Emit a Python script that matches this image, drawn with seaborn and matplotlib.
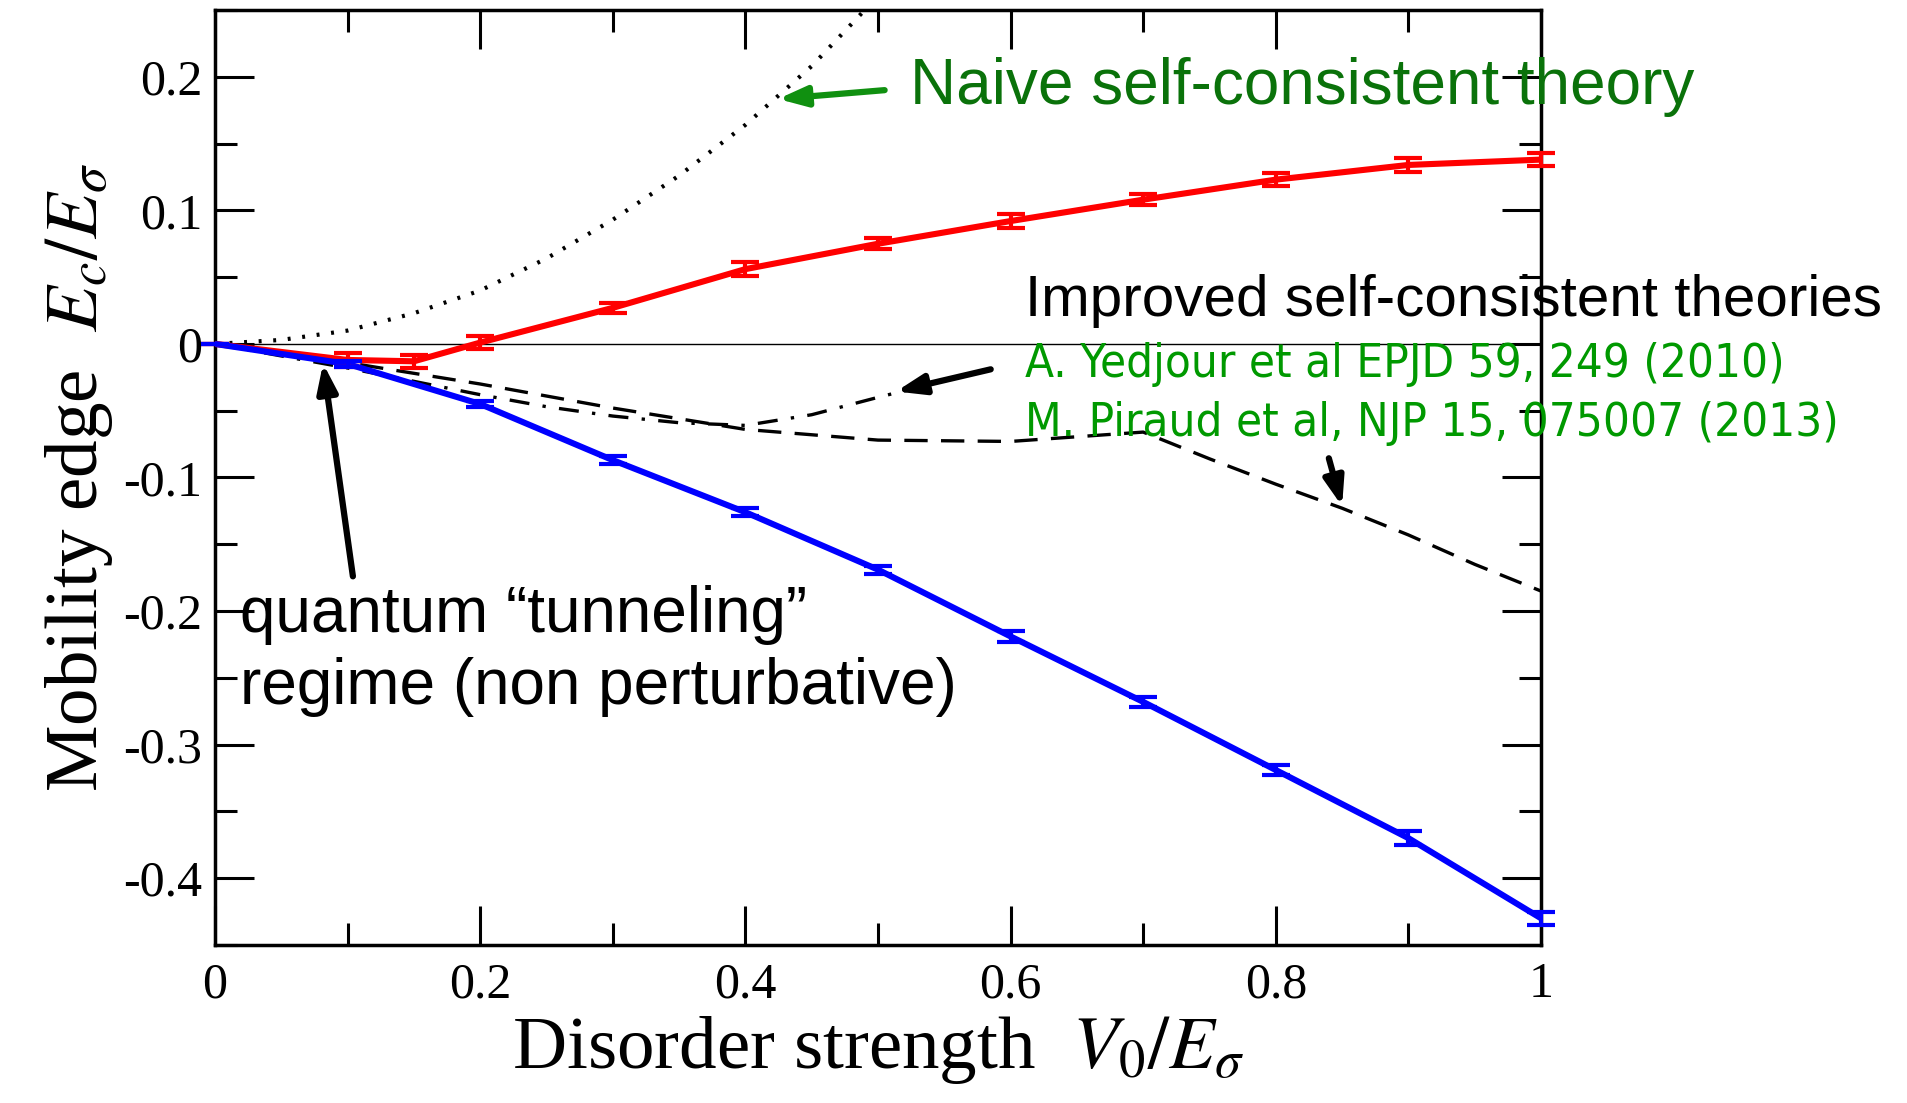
import matplotlib
matplotlib.use("Agg")
import matplotlib.pyplot as plt
from matplotlib.ticker import MultipleLocator
import numpy as np
import pandas as pd
import seaborn as sns

# ---- data ----
x_red = [0.0, 0.1, 0.15, 0.2, 0.3, 0.4, 0.5, 0.6, 0.7, 0.8, 0.9, 1.0]
y_red = [0.0, -0.012, -0.013, 0.001, 0.027, 0.056, 0.075, 0.092, 0.108, 0.123, 0.134, 0.138]
e_red = [0.0, 0.005, 0.005, 0.005, 0.004, 0.005, 0.004, 0.005, 0.004, 0.005, 0.005, 0.005]

x_blue = [0.0, 0.1, 0.2, 0.3, 0.4, 0.5, 0.6, 0.7, 0.8, 0.9, 1.0]
y_blue = [0.0, -0.015, -0.045, -0.087, -0.126, -0.169, -0.219, -0.268, -0.319, -0.370, -0.430]
e_blue = [0.0, 0.002, 0.002, 0.003, 0.003, 0.003, 0.004, 0.004, 0.004, 0.005, 0.005]

x_naive = [0.0, 0.05, 0.1, 0.15, 0.2, 0.25, 0.3, 0.35, 0.4, 0.45, 0.49]
y_naive = [0.0, 0.003, 0.010, 0.023, 0.040, 0.064, 0.093, 0.126, 0.164, 0.208, 0.25]

x_yed = [0.0, 0.1, 0.2, 0.25, 0.3, 0.35, 0.4, 0.45, 0.5, 0.52]
y_yed = [0.0, -0.018, -0.038, -0.047, -0.054, -0.059, -0.061, -0.053, -0.040, -0.035]

x_pir = [0.0, 0.1, 0.2, 0.3, 0.4, 0.5, 0.6, 0.7, 0.75, 0.8, 0.85, 0.9, 0.95, 1.0]
y_pir = [0.0, -0.014, -0.030, -0.048, -0.064, -0.072, -0.073, -0.066, -0.086, -0.105, -0.123, -0.143, -0.165, -0.185]

x_ticks = [0, 0.2, 0.4, 0.6, 0.8, 1]
x_ticklabels = ["0", "0.2", "0.4", "0.6", "0.8", "1"]
y_ticks = [-0.4, -0.3, -0.2, -0.1, 0, 0.1, 0.2]
y_ticklabels = ["-0.4", "-0.3", "-0.2", "-0.1", "0", "0.1", "0.2"]

sns.set_theme(style="ticks")
plt.rcParams["font.family"] = ["Liberation Serif", "DejaVu Serif"]
plt.rcParams["mathtext.fontset"] = "stix"

W, H = 1907, 1103
fig = plt.figure(figsize=(W / 100, H / 100), dpi=100)
ax = fig.add_axes([215 / W, 1 - 945 / H, (1541 - 215) / W, (945 - 10) / H])

df_red = pd.DataFrame({"x": x_red, "y": y_red})
df_blue = pd.DataFrame({"x": x_blue, "y": y_blue})
df_naive = pd.DataFrame({"x": x_naive, "y": y_naive})
df_yed = pd.DataFrame({"x": x_yed, "y": y_yed})
df_pir = pd.DataFrame({"x": x_pir, "y": y_pir})

ax.axhline(0, color="black", lw=1.0, zorder=1)

sns.lineplot(data=df_naive, x="x", y="y", ax=ax, color="black", lw=3.0,
             linestyle=(0, (0.7, 2.8)), zorder=2)
sns.lineplot(data=df_yed, x="x", y="y", ax=ax, color="black", lw=2.4,
             linestyle=(0, (6, 4, 1, 4)), zorder=2)
sns.lineplot(data=df_pir, x="x", y="y", ax=ax, color="black", lw=2.4,
             linestyle=(0, (7, 4)), zorder=2)
sns.lineplot(data=df_red, x="x", y="y", ax=ax, color="#ff0000", lw=4.4, zorder=3)
sns.lineplot(data=df_blue, x="x", y="y", ax=ax, color="#0000ff", lw=4.4, zorder=3)
ax.errorbar(x_red, y_red, yerr=e_red, fmt="none", ecolor="#ff0000", elinewidth=3,
            capsize=10, capthick=3, zorder=3, clip_on=False)
ax.errorbar(x_blue, y_blue, yerr=e_blue, fmt="none", ecolor="#0000ff", elinewidth=3,
            capsize=10, capthick=3, zorder=3, clip_on=False)

ax.set_xlim(0, 1)
ax.set_ylim(-0.45, 0.25)
ax.set_xticks(x_ticks)
ax.set_xticklabels(x_ticklabels)
ax.set_yticks(y_ticks)
ax.set_yticklabels(y_ticklabels)
ax.xaxis.set_minor_locator(MultipleLocator(0.1))
ax.yaxis.set_minor_locator(MultipleLocator(0.05))
ax.tick_params(which="both", direction="in", top=True, right=True, width=2.2,
               colors="black", labelsize=36)
ax.tick_params(axis="y", pad=9)
ax.tick_params(axis="x", pad=12)
ax.tick_params(which="major", length=28)
ax.tick_params(which="minor", length=16)
for s in ax.spines.values():
    s.set_linewidth(2.5)
    s.set_color("black")

ax.set_xlabel(r"Disorder strength  $V_0/E_\sigma$", fontsize=54, labelpad=4,
              color="black")
ax.set_ylabel(r"Mobility edge  $E_c/E_\sigma$", fontsize=54, labelpad=6,
              color="black")

sans = ["Liberation Sans", "DejaVu Sans"]
ax.text(0.524, 0.192, "Naive self-consistent theory", color="#0a720a",
        fontsize=46, family=sans, va="center", ha="left")
ax.text(0.611, 0.032, "Improved self-consistent theories", color="black",
        fontsize=42, family=sans, va="center", ha="left")
ax.text(0.611, -0.0155, "A. Yedjour et al EPJD 59, 249 (2010)", color="#009900",
        fontsize=34, family=["DejaVu Sans"], fontstretch="condensed", va="center", ha="left")
ax.text(0.611, -0.0595, "M. Piraud et al, NJP 15, 075007 (2013)", color="#009900",
        fontsize=34, family=["DejaVu Sans"], fontstretch="condensed", va="center", ha="left")
ax.text(0.0186, -0.203, "quantum \u201ctunneling\u201d", color="black",
        fontsize=46, family=sans, va="center", ha="left")
ax.text(0.0186, -0.257, "regime (non perturbative)", color="black",
        fontsize=46, family=sans, va="center", ha="left")

def arrow(tail, tip, color):
    ax.annotate("", xy=tip, xytext=tail,
                arrowprops=dict(arrowstyle="-|>,head_length=1.4,head_width=0.5",
                                color=color, lw=4.5, shrinkA=0, shrinkB=0))

arrow((0.505, 0.190), (0.4246, 0.1834), "#109010")
arrow((0.104, -0.174), (0.0815, -0.0146), "black")
arrow((0.585, -0.019), (0.5136, -0.0356), "black")
arrow((0.840, -0.0856), (0.850, -0.1215), "black")

fig.savefig("out.png", dpi=100)
